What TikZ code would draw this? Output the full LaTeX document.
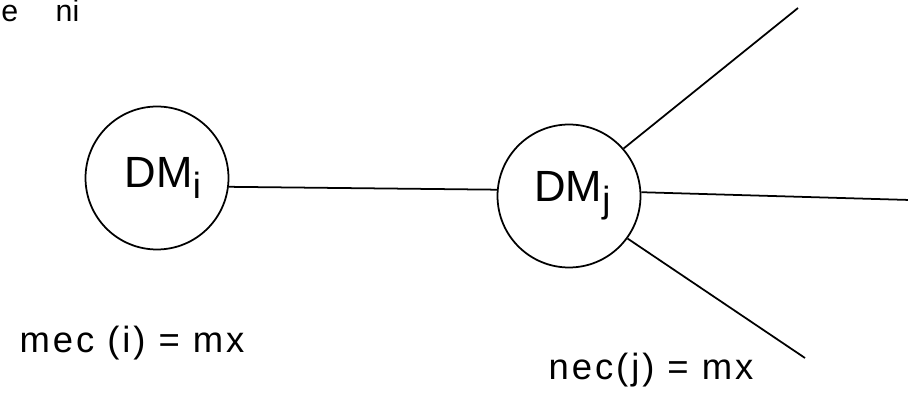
\documentclass[tikz,border=0pt]{standalone}
\usepackage{fontspec}
\setmainfont{Liberation Sans}
\usetikzlibrary{positioning}

\tikzset{
  dmnode/.style={draw, circle, line width=1pt, minimum size=2.86cm,
                 inner sep=0pt, font=\Huge},
  wire/.style={line width=1pt},
  eqlabel/.style={font=\huge\addfontfeature{LetterSpace=8}, inner sep=0pt}
}

\begin{document}
\begin{tikzpicture}[x=0.02cm, y=-0.02cm]
      \useasboundingbox (0,0) rectangle (908,394);

      % text at the top edge
      \node[font=\LARGE, inner sep=0pt, anchor=base west] (head) at (1,22) {e\hspace{0.75cm}ni};

      % the two decision makers
      \node[dmnode] (dmi) at (157,178) {\hspace{0.25cm}DM\textsubscript{i}};
      \node[dmnode] (dmj) at (569,196) {\hspace{0.15cm}DM\textsubscript{j}};

      % free ends of the outgoing lines
      \coordinate (up)  at (798,8);
      \coordinate (mid) at (910,200);
      \coordinate (low) at (805,358);

      % connectors
      \draw[wire] (dmi.-7) -- (dmj.175);
      \draw[wire] (dmj.41) -- (up);
      \draw[wire] (dmj.3) -- (mid);
      \draw[wire] (dmj.-36) -- (low);

      % labels under the nodes
      \node[eqlabel] (reci) at (132,343) {mec (i) = mx};
      \node[eqlabel] (recj) at (651,370) {nec(j) = mx};
\end{tikzpicture}
\end{document}
